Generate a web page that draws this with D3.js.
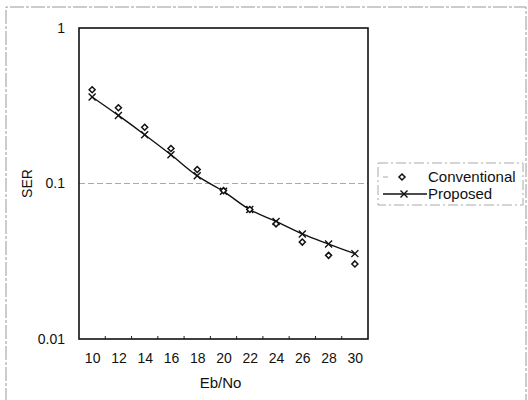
<!DOCTYPE html>
<html>
<head>
<meta charset="utf-8">
<script src="https://cdn.jsdelivr.net/npm/d3@7"></script>
<style>
  body { margin: 0; background: #fff; }
  svg text { font-family: "Liberation Sans", Arial, sans-serif; fill: #111; }
</style>
</head>
<body>
<svg></svg>
<script>
const width = 528;
const height = 400;
const plot = { left: 79, top: 28, right: 368, bottom: 339 };

// data
const ebNo = [10, 12, 14, 16, 18, 20, 22, 24, 26, 28, 30];
const conventional = [0.401, 0.307, 0.230, 0.168, 0.123, 0.090, 0.068, 0.055, 0.042, 0.0345, 0.0304];
const proposed = [0.360, 0.274, 0.206, 0.153, 0.112, 0.089, 0.068, 0.057, 0.0474, 0.0408, 0.0354];
const yTicks = [1, 0.1, 0.01];
const yTickLabels = ["1", "0.1", "0.01"];
const seriesNames = ["Conventional", "Proposed"];

let svg = d3.select("svg").attr("width", width).attr("height", height);

// faint scanned chart-area frame
svg.append("path")
    .attr("d", "M6,402 V7 H526 V402")
    .attr("fill", "none")
    .attr("stroke", "#999")
    .attr("stroke-width", 1)
    .attr("stroke-dasharray", "14,2,3,2");

let scX = d3.scaleLinear().domain([9, 31]).range([plot.left, plot.right]);
let scY = d3.scaleLog().domain([0.01, 1]).range([plot.bottom, plot.top]);

// gridline at 0.1
svg.append("line")
    .attr("x1", plot.left).attr("x2", plot.right)
    .attr("y1", scY(0.1)).attr("y2", scY(0.1))
    .attr("stroke", "#aaa")
    .attr("stroke-dasharray", "6,3");

// x axis: labels below, inside ticks at category boundaries
let axisX = d3.axisBottom(scX)
    .tickValues(ebNo)
    .tickSize(0)
    .tickPadding(14);
let gx = svg.append("g")
    .attr("transform", `translate(0, ${plot.bottom})`)
    .call(axisX);
gx.select(".domain").remove();
gx.selectAll("text").style("font-size", "14px");

svg.append("g")
    .selectAll("line")
    .data(ebNo.slice(0, -1))
    .enter()
    .append("line")
    .attr("x1", d => scX(d + 1)).attr("x2", d => scX(d + 1))
    .attr("y1", plot.bottom).attr("y2", plot.bottom - 3)
    .attr("stroke", "#222");

// y axis labels
let axisY = d3.axisLeft(scY)
    .tickValues(yTicks)
    .tickFormat((d, i) => yTickLabels[i])
    .tickSize(0)
    .tickPadding(14);
let gy = svg.append("g")
    .attr("transform", `translate(${plot.left}, 0)`)
    .call(axisY);
gy.select(".domain").remove();
gy.selectAll("text").style("font-size", "14px");

// plot border
svg.append("rect")
    .attr("x", plot.left).attr("y", plot.top)
    .attr("width", plot.right - plot.left)
    .attr("height", plot.bottom - plot.top)
    .attr("fill", "none")
    .attr("stroke", "#111")
    .attr("stroke-width", 1.6);

// axis titles
svg.append("text")
    .attr("x", (plot.left + plot.right) / 2 - 3)
    .attr("y", 388)
    .attr("text-anchor", "middle")
    .style("font-size", "15px")
    .text("Eb/No");

svg.append("text")
    .attr("transform", `translate(32, ${scY(0.1)}) rotate(-90)`)
    .attr("text-anchor", "middle")
    .style("font-size", "14px")
    .text("SER");

// proposed line (smoothed)
let line = d3.line()
    .x((d, i) => scX(ebNo[i]))
    .y(d => scY(d))
    .curve(d3.curveCatmullRom);

svg.append("path")
    .datum(proposed)
    .attr("d", line)
    .attr("fill", "none")
    .attr("stroke", "#111")
    .attr("stroke-width", 1.4);

function crossPath(cx, cy, r) {
    return `M${cx - r},${cy - r}L${cx + r},${cy + r}M${cx - r},${cy + r}L${cx + r},${cy - r}`;
}
function diamondPath(cx, cy, r) {
    return `M${cx},${cy - r}L${cx + r},${cy}L${cx},${cy + r}L${cx - r},${cy}Z`;
}

svg.append("g")
    .selectAll("path")
    .data(proposed)
    .enter()
    .append("path")
    .attr("d", (d, i) => crossPath(scX(ebNo[i]), scY(d), 3.5))
    .attr("stroke", "#111")
    .attr("stroke-width", 1.4)
    .attr("fill", "none");

svg.append("g")
    .selectAll("path")
    .data(conventional)
    .enter()
    .append("path")
    .attr("d", (d, i) => diamondPath(scX(ebNo[i]), scY(d), 3))
    .attr("stroke", "#111")
    .attr("stroke-width", 1.5)
    .attr("fill", "#fff");

// legend
let legend = svg.append("g");
legend.append("rect")
    .attr("x", 378).attr("y", 163)
    .attr("width", 145).attr("height", 42)
    .attr("fill", "none")
    .attr("stroke", "#aaa")
    .attr("stroke-dasharray", "10,3,2,3");

legend.append("line")
    .attr("x1", 383).attr("x2", 388)
    .attr("y1", 177).attr("y2", 177)
    .attr("stroke", "#aaa");
legend.append("path")
    .attr("d", diamondPath(402, 177, 3))
    .attr("stroke", "#111").attr("stroke-width", 1.5).attr("fill", "#fff");

legend.append("line")
    .attr("x1", 383).attr("x2", 427)
    .attr("y1", 194).attr("y2", 194)
    .attr("stroke", "#111").attr("stroke-width", 1.4);
legend.append("path")
    .attr("d", crossPath(404, 194, 3.5))
    .attr("stroke", "#111").attr("stroke-width", 1.4).attr("fill", "none");

legend.selectAll("text.lbl")
    .data(seriesNames)
    .enter()
    .append("text")
    .attr("class", "lbl")
    .attr("x", 428)
    .attr("y", (d, i) => 177 + i * 17)
    .attr("dy", "0.35em")
    .style("font-size", "15px")
    .text(d => d);
</script>
</body>
</html>
